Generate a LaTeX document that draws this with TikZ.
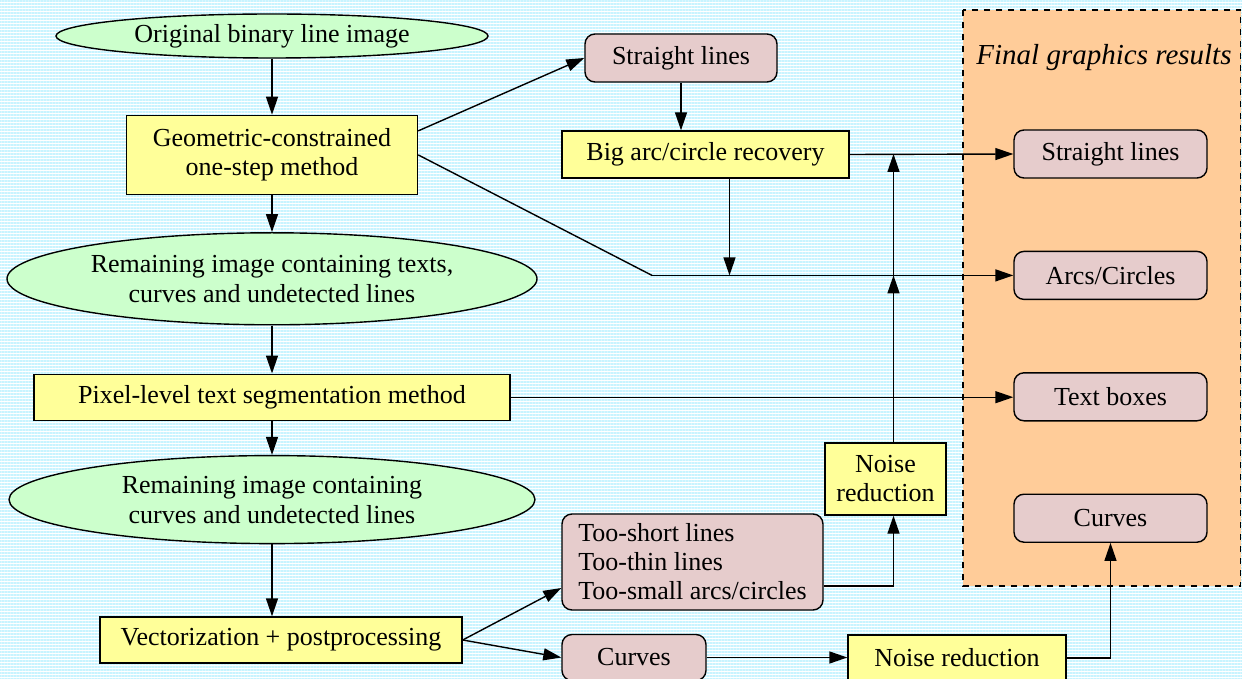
\documentclass[tikz,border=0pt]{standalone}
\usepackage{fontspec}
\setmainfont{Liberation Serif}
\usepackage{xcolor}
\usetikzlibrary{arrows.meta,positioning,shapes.geometric,patterns.meta}

\definecolor{procfill}{HTML}{FFFF99}
\definecolor{datafill}{HTML}{CCFFCC}
\definecolor{resfill}{HTML}{E6CCCC}
\definecolor{finalfill}{HTML}{FFCC99}
\definecolor{stripe}{HTML}{C8F4FF}

\begin{document}
\begin{tikzpicture}[x=0.5pt, y=-0.5pt,
  proc/.style={draw=black, fill=procfill, rectangle, align=center, font=\fontsize{13}{14.5}\selectfont, line width=.7pt, inner sep=2pt},
  data/.style={draw=black, fill=datafill, ellipse, align=center, font=\fontsize{13}{15}\selectfont, line width=.7pt, inner sep=0pt},
  result/.style={draw=black, fill=resfill, rounded corners=5pt, align=center, font=\fontsize{13}{14.5}\selectfont, line width=.7pt, inner sep=2pt},
  edge/.style={-{Triangle[length=9pt, width=6pt]}, draw=black, line width=.7pt}
]
\useasboundingbox (0,0) rectangle (1242,679);
\fill[white] (0,0) rectangle (1242,679);
\fill[pattern={Lines[angle=0, distance=1.5pt, line width=.6pt]}, pattern color=stripe] (0,0) rectangle (1242,679);
\draw[dashed, fill=finalfill, line width=.7pt] (963,10) rectangle (1240.5,586);
\node[font=\fontsize{14.5}{16}\selectfont\itshape] (title) at (1104,58) {Final graphics results};
% main column
\node[data, minimum width=216pt, minimum height=22pt] (orig) at (272,36) {Original binary line image};
\node[proc, minimum width=145.5pt, minimum height=39.5pt, below=28pt of orig] (geo) {Geometric-constrained\\one-step method};
\node[data, minimum width=265pt, minimum height=46pt, below=18.5pt of geo] (rem1) {Remaining image containing texts,\\curves and undetected lines};
\node[proc, minimum width=238pt, minimum height=23pt, below=24pt of rem1] (pix) {Pixel-level text segmentation method};
\node[data, minimum width=263pt, minimum height=44pt, below=17pt of pix] (rem2) {Remaining image containing\\curves and undetected lines};
\node[proc, minimum width=181pt, minimum height=23pt, below=36pt of rem2, xshift=4.5pt] (vec) {Vectorization + postprocessing};
% middle
\node[result, minimum width=96pt, minimum height=24pt] (sl1) at (681,58) {Straight lines};
\node[proc, minimum width=143.5pt, minimum height=23.5pt] (big) at (705.5,154.5) {Big arc/circle recovery};
\node[result, align=left, minimum width=130.5pt, minimum height=48pt] (short) at (692.5,562) {Too-short lines\\Too-thin lines\\Too-small arcs/circles};
\node[result, minimum width=72pt, minimum height=23pt] (curves1) at (634,657.5) {Curves};
\node[proc, minimum width=60.5pt, minimum height=36pt] (noise1) at (885.5,479) {Noise\\reduction};
\node[proc, minimum width=109pt, minimum height=23pt] (noise2) at (957,658) {Noise reduction};
% final results
\node[result, minimum width=96.5pt, minimum height=24pt] (sl2) at (1110.5,154) {Straight lines};
\node[result, minimum width=96.5pt, minimum height=24pt, below=36pt of sl2] (arcs) {Arcs/Circles};
\node[result, minimum width=96.5pt, minimum height=24pt, below=36pt of arcs] (tb) {Text boxes};
\node[result, minimum width=96.5pt, minimum height=24pt, below=36pt of tb] (curves2) {Curves};
\coordinate (bend) at (652,274);
\foreach \x/\y in {orig/geo,geo/rem1,rem1/pix,pix/rem2}{\draw[edge] (\x)--(\y);}
\draw[edge] (rem2.south) -- (rem2.south |- vec.north);
\draw[edge] ([yshift=12pt]geo.east) -- (sl1.west);
\draw[edge] (sl1.south) -- (sl1.south |- big.north);
\draw[line width=.7pt] (geo.east) -- (bend |- arcs.west);
\draw[edge] (bend |- arcs.west) -- (arcs.west);
\draw[edge] ([xshift=12pt]big.south) -- ([xshift=12pt]big.south |- arcs.west);
\draw[edge] (big.east) -- (sl2.west);
\draw[edge] (pix.east) -- (pix.east -| tb.west);
\draw[edge] ([xshift=4pt]noise1.north) -- ([xshift=4pt]noise1.north |- arcs.west);
\draw[edge] ([xshift=4pt]noise1.north |- arcs.west) -- ([xshift=4pt]noise1.north |- sl2.west);
\draw[edge] ([yshift=-12pt]short.east) -| ([xshift=4pt]noise1.south);
\draw[edge] (vec.east) -- ([yshift=-13pt]short.west);
\draw[edge] (vec.east) -- (curves1.west);
\draw[edge] (curves1.east) -- (curves1.east -| noise2.west);
\draw[edge] (noise2.east) -| (curves2.south);
\end{tikzpicture}
\end{document}
